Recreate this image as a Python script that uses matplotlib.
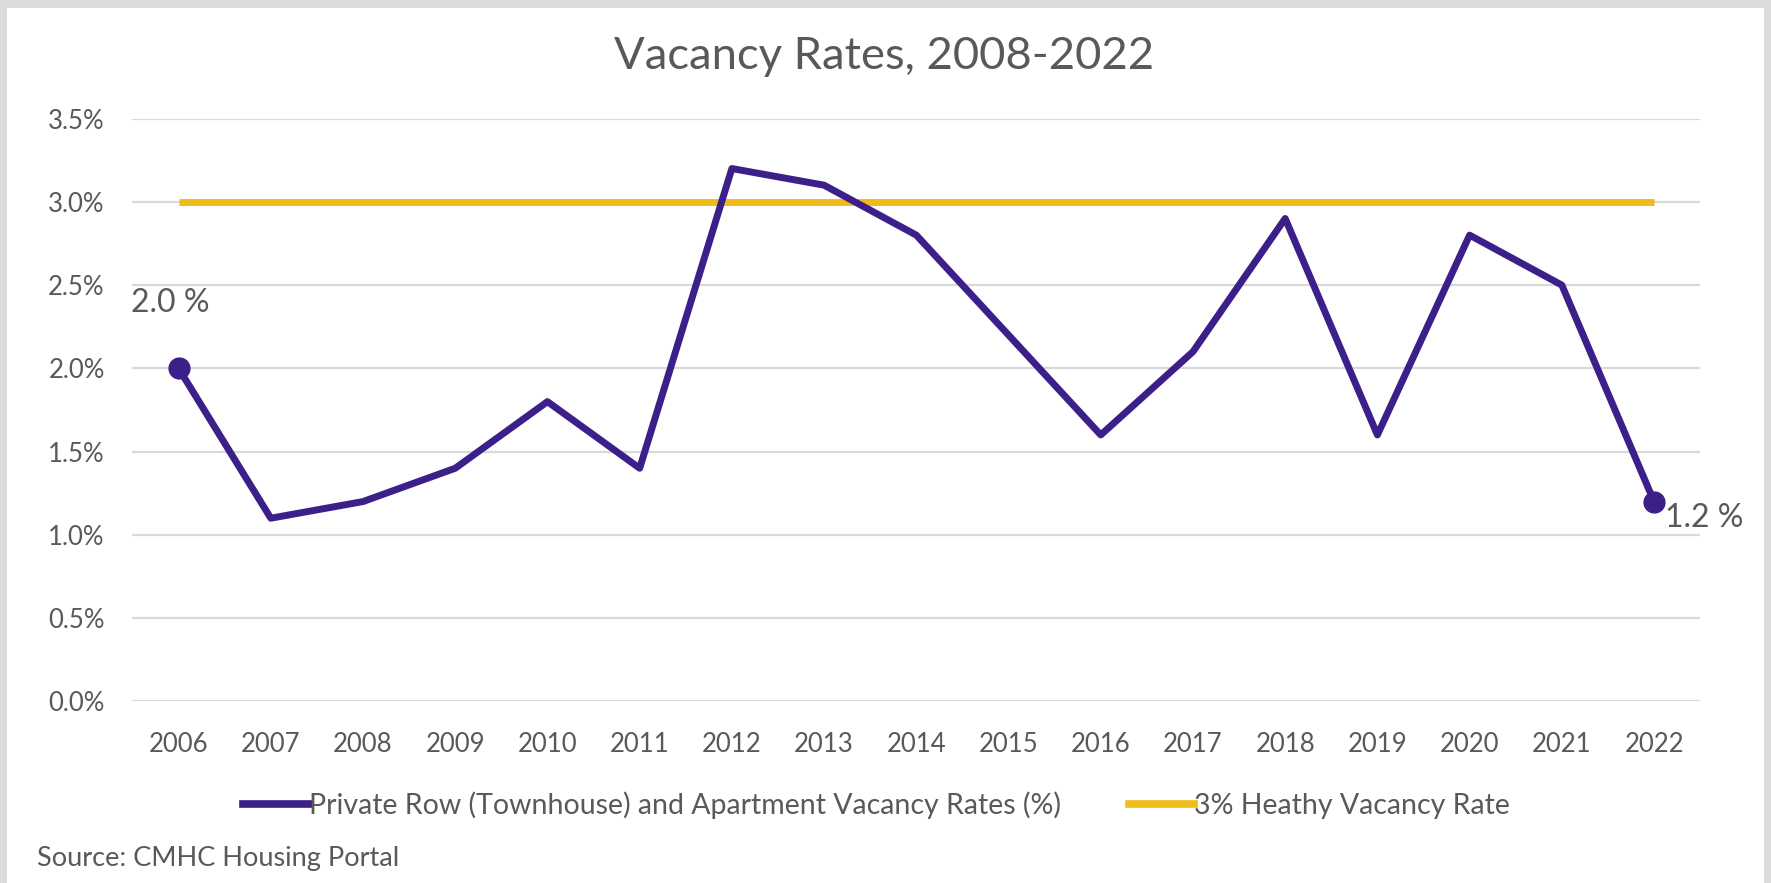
import matplotlib.pyplot as plt
from matplotlib.patches import Rectangle
from matplotlib.lines import Line2D

plt.rcParams['font.family'] = ['Lato', 'DejaVu Sans']

years = ['2006', '2007', '2008', '2009', '2010', '2011', '2012', '2013', '2014',
         '2015', '2016', '2017', '2018', '2019', '2020', '2021', '2022']
vacancy = [2.0, 1.1, 1.2, 1.4, 1.8, 1.4, 3.2, 3.1, 2.8,
           2.2, 1.6, 2.1, 2.9, 1.6, 2.8, 2.5, 1.2]
healthy = [3.0] * len(years)
yticks = [0.0, 0.5, 1.0, 1.5, 2.0, 2.5, 3.0, 3.5]

purple = '#3d1f8a'
yellow = '#f0bc1c'
grey_text = '#595959'

fig = plt.figure(figsize=(17.71, 8.83), dpi=100, facecolor='#dcdcdc')
fig.patches.append(Rectangle((0.004, 0.0), 0.992, 0.991, transform=fig.transFigure,
                             facecolor='white', edgecolor='none', zorder=-10))

ax = fig.add_axes([0.0748, 0.2057, 0.8852, 0.66])
ax.set_facecolor('none')
x = list(range(len(years)))

ax.plot(x, healthy, color=yellow, lw=5, solid_capstyle='butt', zorder=3)
ax.plot(x, vacancy, color=purple, lw=5, zorder=4, marker='o', markersize=15,
        markevery=[0, len(x) - 1])

ax.annotate('%.1f %%' % vacancy[0], (x[0], vacancy[0]), xytext=(-34, 47),
            textcoords='offset points', fontsize=23, color=grey_text, va='center')
ax.annotate('%.1f %%' % vacancy[-1], (x[-1], vacancy[-1]), xytext=(8, -12),
            textcoords='offset points', fontsize=23, color=grey_text, va='center')

ax.set_xlim(-0.5, len(x) - 0.5)
ax.set_ylim(0, 3.5)
ax.set_yticks(yticks)
ax.set_yticklabels(['%.1f%%' % v for v in yticks])
ax.set_xticks(x)
ax.set_xticklabels(years)
ax.tick_params(length=0, labelsize=18.5, labelcolor=grey_text)
ax.tick_params(axis='y', pad=20)
ax.tick_params(axis='x', pad=22)
ax.grid(axis='y', color='#d9d9d9', lw=1.6)
ax.set_axisbelow(True)
for s in ax.spines.values():
    s.set_visible(False)

fig.text(0.499, 0.936, 'Vacancy Rates, 2008-2022', ha='center', va='center',
         fontsize=32.7, color=grey_text)

handles = [Line2D([], [], color=purple, lw=5.5),
           Line2D([], [], color=yellow, lw=5.5)]
labels = ['Private Row (Townhouse) and Apartment Vacancy Rates (%)',
          '3% Heathy Vacancy Rate']
fig.legend(handles, labels, loc='center', bbox_to_anchor=(0.495, 0.088), ncol=2,
           frameon=False, fontsize=20.5, handlelength=2.3, handletextpad=0.0,
           columnspacing=2.4, labelcolor=grey_text)

fig.text(0.021, 0.028, 'Source: CMHC Housing Portal', fontsize=19.5, color=grey_text,
         va='center')

fig.savefig('out.png', dpi=100, facecolor=fig.get_facecolor())
